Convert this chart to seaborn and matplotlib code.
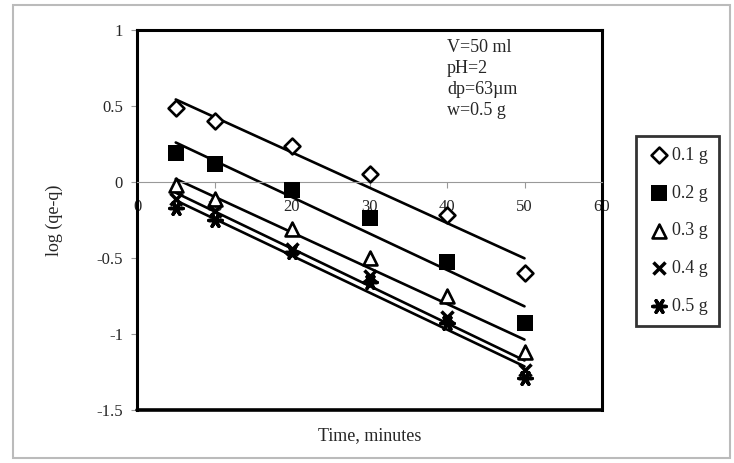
import numpy as np
import pandas as pd
import matplotlib
matplotlib.use('Agg')
import matplotlib.pyplot as plt
from matplotlib.patches import Rectangle
from matplotlib.ticker import FuncFormatter
import seaborn as sns

sns.set_theme(style='white')
plt.rcParams['font.family'] = ['Liberation Serif', 'DejaVu Serif']
plt.rcParams['axes.unicode_minus'] = False

# 数据
time = [5, 10, 20, 30, 40, 50]
w_01 = [0.49, 0.40, 0.235, 0.05, -0.22, -0.60]
w_02 = [0.19, 0.12, -0.055, -0.235, -0.525, -0.93]
w_03 = [-0.02, -0.115, -0.31, -0.50, -0.75, -1.12]
w_04 = [-0.11, -0.19, -0.44, -0.62, -0.89, -1.24]
w_05 = [-0.17, -0.25, -0.46, -0.66, -0.93, -1.29]
labels = ['0.1 g', '0.2 g', '0.3 g', '0.4 g', '0.5 g']
x_ticks = [0, 10, 20, 30, 40, 50, 60]
y_ticks = [-1.5, -1, -0.5, 0, 0.5, 1]

series = [w_01, w_02, w_03, w_04, w_05]
# (marker, size, edge width, open face?)
styles = [
    ('D', 65, 1.9, True),
    ('s', 130, 0.0, False),
    ('^', 100, 1.9, True),
    ('x', 75, 2.5, False),
    ((6, 2, 90), 90, 2.5, False),
]

fig = plt.figure(figsize=(7.34, 4.63), dpi=100)
ax = fig.add_axes([137 / 734, 1 - 410 / 463, 465 / 734, 380 / 463])

for vals, lab, (mk, sz, lw, hollow) in zip(series, labels, styles):
    df = pd.DataFrame({'t': time, 'v': vals})
    sns.regplot(data=df, x='t', y='v', ax=ax, ci=None, truncate=True,
                marker=mk, color='black', label=lab,
                scatter_kws=dict(s=sz, linewidths=lw, alpha=1, zorder=3),
                line_kws=dict(color='black', lw=1.9, zorder=2))
    coll = ax.collections[-1]
    if hollow:
        coll.set_facecolor('white')
        coll.set_edgecolor('black')

ax.set_xlim(0, 60)
ax.set_ylim(-1.5, 1)
ax.set_xticks(x_ticks)
ax.set_yticks(y_ticks)
ax.yaxis.set_major_formatter(FuncFormatter(lambda v, p: f'{v:g}'))

# 外框 + x 轴位于 y=0
for s in ['top', 'right', 'left']:
    ax.spines[s].set_color('black')
    ax.spines[s].set_linewidth(2.2)
ax.spines['bottom'].set_position(('data', 0))
ax.spines['bottom'].set_color('#999999')
ax.spines['bottom'].set_linewidth(0.8)
ax.plot([0, 60], [-1.5, -1.5], color='black', lw=2.6, clip_on=False, zorder=5)

ax.tick_params(axis='x', direction='out', length=4, width=0.8, color='#999999',
               labelsize=12, pad=8, bottom=True)
ax.tick_params(axis='y', direction='out', length=4, width=0.8, color='#999999',
               labelsize=12, pad=6, left=True)

ax.set_xlabel('Time, minutes', fontsize=13)
ax.xaxis.set_label_coords(0.5, -0.045)
ax.set_ylabel('log (qe-q)', fontsize=13, labelpad=24)

ax.text(0.667, 0.975, 'V=50 ml\npH=2\ndp=63µm\nw=0.5 g', transform=ax.transAxes,
        fontsize=13, va='top', ha='left', linespacing=1.3)

leg = ax.legend(loc='upper left', bbox_to_anchor=(636 / 734, 1 - 136 / 463),
                bbox_transform=fig.transFigure, frameon=True, fancybox=False,
                fontsize=13, handletextpad=0.0, handlelength=1.4,
                borderpad=0.6, labelspacing=1.15, borderaxespad=0)
leg.get_frame().set_edgecolor('black')
leg.get_frame().set_linewidth(2)

fig.patches.append(Rectangle((13 / 734, 5 / 463), 717 / 734, 453 / 463,
                             transform=fig.transFigure, fill=False,
                             edgecolor='#bbbbbb', lw=1.5))

plt.savefig('out.png', dpi=100)
